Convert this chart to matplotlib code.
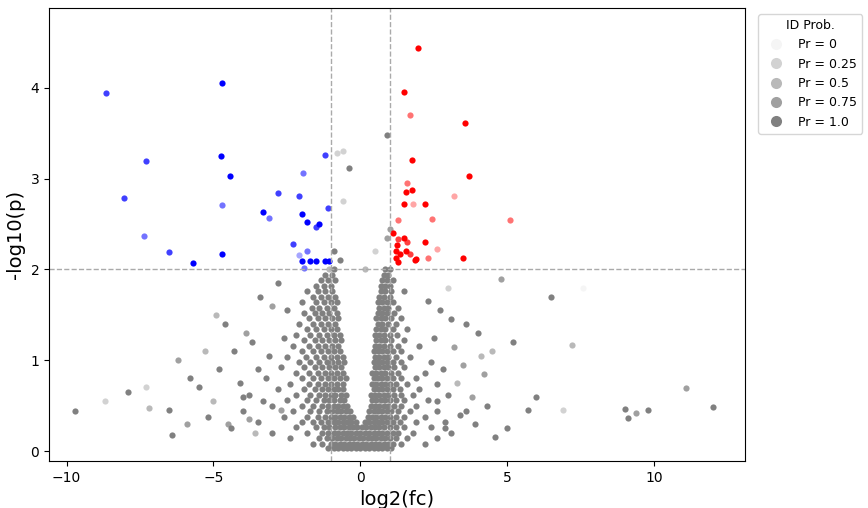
import matplotlib
matplotlib.use("Agg")
import matplotlib.pyplot as plt
from matplotlib.lines import Line2D

# gray cloud rows: (y, xs)
gray_rows = [
(0.03,[-1.1,-0.9,-0.75,-0.6,-0.45,-0.3,-0.15,0,0.15,0.3,0.45,0.6,0.75,0.9,1.05]),
(0.08,[-1.6,-1.3,-1.0,-0.85,-0.7,-0.55,-0.4,-0.25,-0.1,0.05,0.2,0.35,0.5,0.65,0.8,0.95,1.1,1.4,2.2]),
(0.14,[-2.4,-1.4,-1.15,-0.95,-0.8,-0.65,-0.5,-0.35,-0.2,-0.05,0.1,0.25,0.4,0.55,0.7,0.85,1.0,1.2,1.6,2.6]),
(0.20,[-3.0,-1.8,-1.3,-1.1,-0.9,-0.75,-0.6,-0.45,-0.3,-0.15,0,0.15,0.3,0.45,0.6,0.75,0.9,1.1,1.3,1.8,3.1]),
(0.26,[-2.2,-1.5,-1.25,-1.05,-0.85,-0.7,-0.55,-0.4,-0.25,-0.1,0.05,0.2,0.35,0.5,0.65,0.8,1.0,1.2,1.5,2.4]),
(0.32,[-3.5,-2.0,-1.6,-1.35,-1.1,-0.9,-0.75,-0.6,-0.45,-0.3,-0.15,0.15,0.3,0.45,0.6,0.75,0.9,1.1,1.35,1.9,2.9]),
(0.38,[-2.6,-1.8,-1.45,-1.2,-1.0,-0.85,-0.7,-0.55,-0.4,-0.25,0.25,0.4,0.55,0.7,0.85,1.0,1.2,1.5,2.2]),
(0.44,[-4.0,-2.3,-1.7,-1.4,-1.15,-0.95,-0.8,-0.65,-0.5,-0.35,0.3,0.45,0.6,0.75,0.9,1.05,1.3,1.7,2.6,3.6]),
(0.50,[-3.0,-2.0,-1.6,-1.3,-1.1,-0.9,-0.75,-0.6,-0.45,0.35,0.5,0.65,0.8,0.95,1.15,1.4,1.9]),
(0.56,[-2.5,-1.8,-1.5,-1.25,-1.05,-0.9,-0.7,-0.55,0.4,0.55,0.7,0.85,1.0,1.2,1.5,2.3]),
(0.62,[-3.8,-2.2,-1.7,-1.4,-1.2,-1.0,-0.85,-0.65,-0.5,0.35,0.5,0.65,0.8,0.95,1.15,1.4,1.8,3.0]),
(0.68,[-2.8,-1.9,-1.55,-1.3,-1.1,-0.9,-0.75,-0.6,0.45,0.6,0.75,0.9,1.1,1.35,2.0]),
(0.74,[-2.4,-1.75,-1.45,-1.2,-1.0,-0.8,-0.6,0.4,0.55,0.7,0.85,1.0,1.2,1.6,2.6]),
(0.80,[-3.2,-2.0,-1.6,-1.35,-1.1,-0.9,-0.7,-0.5,0.45,0.6,0.75,0.9,1.1,1.4,1.9]),
(0.86,[-2.2,-1.75,-1.45,-1.2,-1.0,-0.8,-0.6,0.4,0.55,0.7,0.85,1.05,1.3,2.2]),
(0.92,[-2.7,-1.9,-1.55,-1.3,-1.05,-0.85,-0.65,0.5,0.65,0.8,0.95,1.15,1.5]),
(0.98,[-2.1,-1.7,-1.4,-1.15,-0.95,-0.75,-0.55,0.45,0.6,0.75,0.9,1.1,1.4,2.4]),
(1.04,[-2.5,-1.85,-1.5,-1.25,-1.0,-0.8,-0.6,0.5,0.65,0.8,0.95,1.2,1.7]),
(1.10,[-2.0,-1.6,-1.35,-1.1,-0.9,-0.7,0.45,0.6,0.75,0.9,1.1,1.4]),
(1.16,[-2.3,-1.75,-1.45,-1.2,-0.95,-0.75,0.5,0.65,0.8,1.0,1.3,2.0]),
(1.22,[-1.9,-1.55,-1.3,-1.05,-0.85,-0.65,0.55,0.7,0.85,1.05,1.5]),
(1.28,[-2.2,-1.7,-1.4,-1.15,-0.9,-0.7,0.5,0.65,0.8,1.0,1.25]),
(1.34,[-1.8,-1.5,-1.25,-1.0,-0.8,0.55,0.7,0.85,1.1,1.6]),
(1.40,[-2.1,-1.6,-1.35,-1.1,-0.85,0.6,0.75,0.95,1.2]),
(1.46,[-1.75,-1.45,-1.2,-0.95,-0.75,0.55,0.7,0.85,1.05,1.4]),
(1.52,[-1.9,-1.55,-1.3,-1.05,-0.8,0.6,0.75,0.9,1.15]),
(1.58,[-1.65,-1.4,-1.15,-0.9,0.65,0.8,0.95,1.3]),
(1.64,[-2.0,-1.5,-1.25,-1.0,-0.8,0.6,0.75,0.9,1.1]),
(1.70,[-1.6,-1.35,-1.1,-0.85,0.65,0.8,1.0]),
(1.76,[-1.8,-1.45,-1.2,-0.95,0.7,0.85,1.05,1.5]),
(1.82,[-1.5,-1.25,-1.0,0.7,0.85,1.0]),
(1.88,[-1.35,-1.1,-0.85,0.75,0.9,1.1]),
(1.94,[-1.2,-0.95,0.8,0.95]),
(2.00,[-0.9,0.85,1.0]),
]

out_x = [-9.7,-7.9,-7.2,-6.5,-6.4,-5.9,-5.2,-4.9,-4.6,-4.3,-3.9,-5.5,-3.5,-3.0,-2.8,-3.6,-4.8,-6.2,-5.8,
         4.0,4.5,4.8,5.2,6.5,7.2,6.0,5.7,4.6,3.8,3.4,3.0,3.6,2.8,9.0,9.1,9.4,9.8,11.1,12.0,6.9,7.6,
         -7.3,-8.7,-4.0,4.2,5.0,-0.9,-0.6,-0.4,-0.6,-0.8,0.9,0.9,1.0,-0.7,-1.05,0.5,0.15,
         -4.4,-3.8,-3.3,-2.6,-5.0,-4.1,-3.1,-2.7,-5.3,-3.4,-2.5,-4.5,-3.7,
         2.5,3.2,2.7,3.9,2.3,3.3,4.3,2.9,3.5,4.1,2.6,3.1]
out_y = [0.44,0.65,0.47,0.45,0.18,0.30,0.37,1.50,1.40,1.10,1.30,0.70,0.90,1.60,1.85,0.20,0.90,1.00,0.80,
         1.30,1.10,1.90,1.20,1.70,1.17,0.60,0.45,0.15,0.60,0.40,1.80,1.40,0.90,0.46,0.36,0.42,0.45,0.69,0.49,0.45,1.80,
         0.70,0.55,0.60,0.85,0.25,2.20,2.75,3.12,3.30,3.28,3.48,2.35,2.45,2.10,2.00,2.20,2.00,
         0.25,0.35,0.55,1.25,0.55,0.75,1.05,0.45,1.10,1.70,1.55,0.30,1.20,
         1.25,1.15,1.55,0.30,1.65,0.75,0.50,0.25,0.95,1.05,0.55,1.45]
out_p = [1,1,0.5,1,1,0.75,1,0.5,1,1,0.75,1,1,0.75,1,0.5,1,0.75,1,
         1,0.5,0.75,1,1,0.5,1,1,1,0.75,1,0.25,1,1,1,1,0.75,1,0.75,1,0.25,0,
         0.25,0.25,1,0.75,1,1,0.25,1,0.25,0.25,1,0.75,0.75,1,0.5,0.25,0.5,
         1,0.75,1,1,0.5,1,1,0.75,0.5,1,1,0.75,1,
         1,0.75,1,1,1,0.5,1,1,0.75,0.5,1,1]

blue_x = [-8.65,-8.05,-7.3,-7.35,-6.5,-5.7,-4.7,-4.75,-4.45,-4.7,-4.7,-3.3,-3.1,-2.8,-2.1,-1.95,-1.2,-1.1,
          -2.3,-2.0,-1.8,-1.4,-1.5,-2.1,-2.0,-1.8,-1.7,-1.5,-1.2,-1.05,-1.9]
blue_y = [3.94,2.79,3.19,2.37,2.19,2.07,4.05,3.25,3.03,2.71,2.17,2.63,2.57,2.84,2.81,3.06,3.26,2.68,
          2.28,2.61,2.52,2.50,2.47,2.16,2.09,2.20,2.09,2.09,2.09,2.09,2.02]
blue_p = [0.75,0.75,0.75,0.5,0.75,1,1,1,1,0.5,1,1,0.5,0.75,0.75,0.5,0.75,0.75,
          0.75,1,1,1,0.75,0.25,1,0.5,1,1,1,1,0.5]

red_x = [1.95,1.5,1.7,3.55,1.75,3.7,1.6,1.75,1.55,3.2,1.5,2.2,1.8,5.1,1.3,2.45,1.1,1.5,1.3,2.2,1.6,1.25,
         2.6,1.2,1.55,1.7,1.35,1.9,1.85,2.3,1.2,1.3,3.5]
red_y = [4.44,3.96,3.70,3.61,3.21,3.03,2.95,2.88,2.85,2.81,2.72,2.72,2.72,2.54,2.55,2.56,2.40,2.35,2.33,2.30,2.30,2.27,
         2.23,2.20,2.20,2.17,2.17,2.12,2.10,2.13,2.13,2.08,2.13]
red_p = [1,1,0.5,1,1,1,0.5,1,1,0.25,1,1,0.25,0.5,0.5,0.5,1,1,0.75,1,0.75,1,
         0.25,1,1,0.75,1,1,1,0.5,1,1,1]

prob_levels = [0, 0.25, 0.5, 0.75, 1.0]
alpha_levels = [0.08, 0.35, 0.55, 0.75, 1.0]

def alphas(ps):
    return [alpha_levels[prob_levels.index(p)] for p in ps]

gx, gy = [], []
for y, xs in gray_rows:
    gx += xs
    gy += [y] * len(xs)

fig = plt.figure(figsize=(8.68, 5.08), dpi=100)
ax = fig.add_axes([49/868, 1-461/508, 696/868, 453/508])
S = 20
ax.scatter(gx, gy, s=S, color="#808080", linewidths=0)
for x, y, a in zip(out_x, out_y, alphas(out_p)):
    ax.scatter([x], [y], s=S, color="#808080", alpha=a, linewidths=0)
for x, y, a in zip(blue_x, blue_y, alphas(blue_p)):
    ax.scatter([x], [y], s=S, color="blue", alpha=a, linewidths=0)
for x, y, a in zip(red_x, red_y, alphas(red_p)):
    ax.scatter([x], [y], s=S, color="red", alpha=a, linewidths=0)

ax.axvline(-1, color="#aaaaaa", ls="--", lw=1)
ax.axvline(1, color="#aaaaaa", ls="--", lw=1)
ax.axhline(2, color="#aaaaaa", ls="--", lw=1)
ax.set_xlim(-10.6, 13.1)
ax.set_ylim(-0.11, 4.88)
ax.set_xticks([-10, -5, 0, 5, 10])
ax.set_yticks([0, 1, 2, 3, 4])
ax.set_xlabel("log2(fc)", fontsize=14)
ax.set_ylabel("-log10(p)", fontsize=14)

handles = [Line2D([], [], marker="o", ls="", color="#808080", alpha=a, markersize=8, markeredgewidth=0)
           for a in alpha_levels]
ax.legend(handles, [f"Pr = {p}" for p in ["0", "0.25", "0.5", "0.75", "1.0"]], title="ID Prob.",
          loc="upper left", bbox_to_anchor=(1.01, 1.0), fontsize=9, title_fontsize=9)
fig.savefig("out.png", dpi=100)
